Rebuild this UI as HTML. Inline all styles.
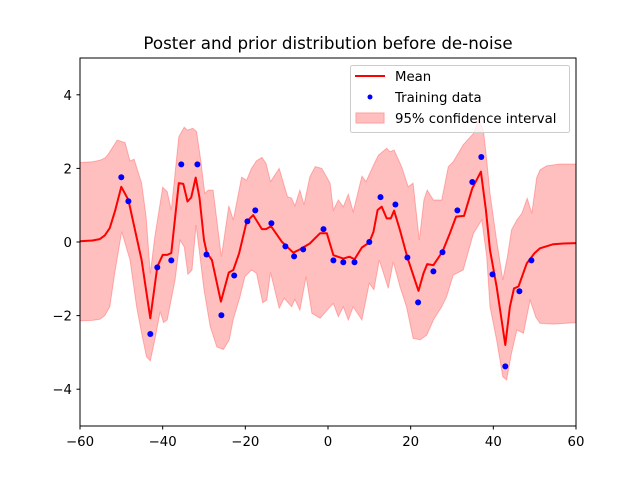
<!DOCTYPE html>
<html><head><meta charset="utf-8"><style>
html,body{margin:0;padding:0;background:#fff;}
svg{display:block;font-family:"DejaVu Sans","Liberation Sans",sans-serif;}
</style></head><body>
<svg id="chart" width="640" height="480" viewBox="0 0 640 480" xmlns="http://www.w3.org/2000/svg">
<rect width="640" height="480" fill="#fff"/>
<text x="328" y="49" text-anchor="middle" font-size="16.7" fill="#000">Poster and prior distribution before de-noise</text>
<g id="band"></g>
<g id="meanLayer"></g>
<g id="pts"></g>
<rect x="80" y="58" width="496" height="368" fill="none" stroke="#000" stroke-width="1"/>
<g id="xt"></g>
<g id="yt"></g>
<g>
<rect x="350.5" y="65.5" width="219" height="67" rx="2" fill="#fff" fill-opacity="0.8" stroke="#ccc"/>
<line x1="355" y1="76" x2="385" y2="76" stroke="#f00" stroke-width="2"/>
<text x="395" y="81" font-size="13.3">Mean</text>
<circle cx="370" cy="97" r="2.5" fill="#00f"/>
<text x="395" y="102" font-size="13.3">Training data</text>
<rect x="356" y="113" width="28" height="10" fill="#ffbfbf" stroke="#ff9f9f"/>
<text x="395" y="123" font-size="13.3">95% confidence interval</text>
</g>
</svg>
<script>
const trainX=[-50.0,-48.3,-43.0,-41.3,-37.9,-35.5,-31.6,-29.4,-25.8,-22.7,-19.5,-17.6,-13.7,-10.3,-8.2,-6.0,-1.1,1.3,3.7,6.4,10.0,12.7,16.3,19.2,21.8,25.5,27.7,31.3,34.9,37.1,39.8,42.9,46.3,49.2];
const trainY=[1.76,1.11,-2.50,-0.69,-0.50,2.11,2.11,-0.34,-1.99,-0.91,0.56,0.86,0.51,-0.12,-0.39,-0.20,0.35,-0.50,-0.55,-0.55,0.0,1.22,1.02,-0.42,-1.64,-0.80,-0.28,0.86,1.63,2.31,-0.88,-3.38,-1.34,-0.50];
const meanX=[-60,-57,-55.2,-54,-52.8,-51.5,-50.0,-48.3,-45.1,-43.0,-41.3,-40.0,-38.9,-37.9,-36.1,-35.0,-34.0,-33.1,-32.0,-31.1,-30.0,-29.3,-28.1,-25.9,-24.0,-22.9,-21.5,-19.7,-18.1,-16.0,-15.0,-13.8,-11.2,-8.4,-6.8,-4.4,-1.9,-0.3,1.3,3.7,5.2,6.4,8.2,10.0,11.0,12.0,13.0,14.2,15.2,16.0,17.4,19.2,21.9,23.1,24.0,25.5,27.7,29.5,31.0,32.9,34.9,37.0,38.2,39.2,40.8,42.0,42.9,44.0,45.0,46.1,48.1,50,51.3,54.5,57,60];
const meanY=[0.02,0.04,0.08,0.18,0.38,0.85,1.50,1.14,-0.49,-2.07,-0.67,-0.35,-0.35,-0.30,1.60,1.58,1.10,1.21,1.75,1.20,0.05,-0.30,-0.49,-1.62,-0.83,-0.76,-0.31,0.55,0.73,0.35,0.35,0.43,0.01,-0.29,-0.20,-0.04,0.24,0.24,-0.36,-0.45,-0.40,-0.47,-0.15,-0.01,0.28,0.87,0.96,0.64,0.64,0.85,0.33,-0.42,-1.33,-0.85,-0.60,-0.63,-0.26,0.24,0.69,0.71,1.46,1.91,0.87,-0.22,-1.21,-2.12,-2.80,-1.76,-1.26,-1.21,-0.58,-0.30,-0.17,-0.06,-0.04,-0.03];
const upperX=[-60,-57,-55.2,-54,-53.2,-51.0,-49.1,-47.9,-46.9,-45.1,-44.0,-43.0,-41.9,-40.0,-38.9,-37.9,-36.1,-34.8,-34.0,-32.7,-31.8,-30.8,-29.8,-29.0,-27.8,-25.8,-24.0,-22.9,-20.9,-19.7,-18.5,-17.3,-16.0,-15.0,-13.9,-11.8,-9.8,-8.8,-8.0,-6.8,-5.8,-4.4,-3.1,-1.5,0.5,1.3,2.5,3.7,4.9,6.1,8.2,9.2,11.0,12.2,14.2,15.0,16.0,17.8,19.4,20.6,22.1,23.2,24.0,25.5,27.5,29.1,30.3,32.7,35.2,36.4,37.6,38.4,39.2,40.8,42.3,43.4,44.4,45.7,46.9,48.2,49.3,50.5,51.3,52.9,56.1,60];
const upperY=[2.16,2.18,2.22,2.28,2.38,2.77,2.70,2.20,2.25,1.60,0.69,-0.85,0.14,1.49,1.37,0.87,2.86,3.12,3.04,3.09,3.00,2.23,1.32,1.41,1.41,-0.40,0.98,0.60,1.76,1.68,2.00,2.21,2.30,2.14,1.64,2.00,1.23,1.19,0.98,1.41,1.01,1.77,2.05,2.00,1.60,0.87,1.14,0.96,1.30,0.82,1.79,1.64,2.09,2.36,2.55,2.45,2.50,2.05,1.50,1.60,0.05,1.14,1.41,1.14,1.14,2.05,2.18,2.64,2.95,3.32,3.04,2.23,1.32,0.05,-1.03,-0.40,0.33,0.60,0.78,1.19,0.78,1.75,1.96,2.07,2.12,2.12];
const lowerX=[-60,-57,-55.2,-54,-52.8,-51.6,-49.9,-47.9,-46.3,-45.1,-43.9,-43.0,-41.9,-40.6,-39.8,-38.9,-37.0,-35.8,-34.8,-33.9,-32.9,-31.9,-30.0,-28.5,-26.9,-25.3,-23.9,-22.9,-21.3,-20.1,-18.5,-17.3,-15.8,-14.8,-13.9,-11.8,-10.6,-8.8,-8.0,-6.8,-5.3,-3.9,-1.9,0.5,1.3,2.5,3.7,4.9,6.1,8.2,10.0,11.1,12.4,14.6,15.8,17.4,19.0,20.6,22.3,23.9,25.5,27.5,28.7,30.3,32.7,35.2,37.2,38.4,39.2,40.8,42.3,43.2,44.4,45.7,47.3,48.9,50.3,51.3,54.5,60];
const lowerY=[-2.14,-2.13,-2.10,-2.0,-1.76,-0.85,0.28,-0.49,-1.76,-2.48,-3.12,-3.23,-2.66,-1.89,-2.19,-2.12,-1.03,0.05,-0.13,-0.88,-0.76,0.46,-1.30,-2.30,-2.85,-2.92,-2.66,-2.10,-1.49,-0.94,-0.76,-0.85,-1.65,-1.58,-0.83,-1.80,-1.53,-1.76,-1.56,-1.85,-0.94,-1.94,-2.07,-1.76,-1.67,-2.03,-1.76,-2.12,-1.76,-2.12,-1.12,-1.30,-0.49,-1.26,-0.54,-1.21,-1.76,-2.62,-2.66,-2.53,-2.12,-1.76,-1.49,-0.90,-0.76,0.24,0.60,-0.40,-1.76,-2.66,-3.66,-3.75,-3.02,-2.39,-2.48,-1.58,-2.05,-2.21,-2.23,-2.19];
const xTicks=[-60,-40,-20,0,20,40,60];
const yTicks=[-4,-2,0,2,4];

const NS='http://www.w3.org/2000/svg';
const sx=v=>80+(v+60)/120*496;
const sy=v=>426-(v+5)/10*368;
function mk(tag,attrs,parent){const e=document.createElementNS(NS,tag);for(const k in attrs)e.setAttribute(k,attrs[k]);parent.appendChild(e);return e;}

const band=document.getElementById('band');
let d='M'+upperX.map((x,i)=>sx(x).toFixed(1)+','+sy(upperY[i]).toFixed(1)).join('L');
for(let i=lowerX.length-1;i>=0;i--)d+='L'+sx(lowerX[i]).toFixed(1)+','+sy(lowerY[i]).toFixed(1);
d+='Z';
const bp=mk('path',{d:d,fill:'#ff0000','fill-opacity':'0.25',stroke:'#ff0000','stroke-opacity':'0.25','stroke-width':'1'},band);



const ml=mk('polyline',{points:meanX.map((x,i)=>sx(x).toFixed(1)+','+sy(meanY[i]).toFixed(1)).join(' '),fill:'none',stroke:'#ff0000','stroke-width':'2','stroke-linejoin':'round'},document.getElementById('meanLayer'));



const pts=document.getElementById('pts');
trainX.forEach((x,i)=>{
  const c=mk('circle',{cx:sx(x).toFixed(1),cy:sy(trainY[i]).toFixed(1),r:'3',fill:'#0000ff'},pts);
  
  
});

const xt=document.getElementById('xt');
xTicks.forEach(v=>{
  const X=sx(v);
  const l=mk('line',{x1:X,y1:426,x2:X,y2:429.5,stroke:'#000'},xt);
  
  
  const t=mk('text',{x:X,y:446,'text-anchor':'middle','font-size':'13.3'},xt);
  t.textContent=(v<0?'\u2212'+(-v):String(v));
  
  
});
const yt=document.getElementById('yt');
yTicks.forEach(v=>{
  const Y=sy(v);
  const l=mk('line',{x1:76.5,y1:Y,x2:80,y2:Y,stroke:'#000'},yt);
  
  
  const t=mk('text',{x:72,y:Y+5,'text-anchor':'end','font-size':'13.3'},yt);
  t.textContent=(v<0?'\u2212'+(-v):String(v));
  
  
});
</script>
</body></html>
